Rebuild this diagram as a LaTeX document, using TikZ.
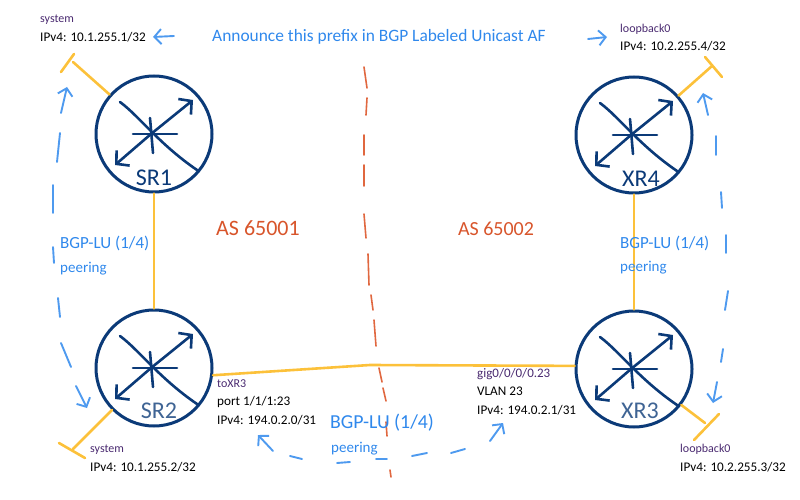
\documentclass[tikz,border=0pt]{standalone}
\usepackage{fontspec}
\setmainfont{Carlito}
\usetikzlibrary{arrows.meta}
\definecolor{navy}{HTML}{0B3A78}
\definecolor{navylight}{HTML}{3F6494}
\definecolor{linkyellow}{HTML}{FCC13A}
\definecolor{noteblue}{HTML}{2F88EC}
\definecolor{ifpurple}{HTML}{4A2A70}
\definecolor{asred}{HTML}{D8552B}
\definecolor{borderred}{HTML}{E0673F}
\tikzset{
  router/.style={circle, draw=navy, line width=3pt, minimum size=116pt, inner sep=0pt},
  rname/.style={text=navy, font=\fontsize{24}{24}\selectfont},
  link/.style={draw=linkyellow, line width=2.6pt, line cap=round},
  peer/.style={draw=noteblue!85!white, line width=1.9pt, line cap=round},
  peerhead/.style={peer, ->, >={Straight Barb[length=7pt,width=15pt]}},
  border/.style={draw=borderred, line width=1.6pt, line cap=round},
  addr/.style={anchor=west, inner sep=0pt, font=\fontsize{13.2}{13.2}\selectfont},
  ifname/.style={addr, text=ifpurple, font=\fontsize{12}{12}\selectfont},
  note/.style={anchor=west, inner sep=0pt, text=noteblue, font=\fontsize{17}{17}\selectfont},
  small note/.style={note, font=\fontsize{15}{15}\selectfont},
  asname/.style={inner sep=0pt, text=asred, font=\fontsize{20}{20}\selectfont},
  routermark/.pic={
    \draw[navy, line width=2.6pt, line cap=round, <->, >={Straight Barb[length=9pt,width=20pt]}]
      (-39,31) -- (-3,0) -- (39,-34);
    \draw[navy, line width=2.6pt, line cap=round] (-34,-32) .. controls (-15,-18) and (5,10) .. (43,36);
    \draw[navy, line width=2.6pt, line cap=round] (-21,0) -- (23,0);
    \draw[navy, line width=2.6pt, line cap=round] (-4,-16) -- (-1,19);
  }
}
\begin{document}
\begin{tikzpicture}[x=1pt,y=-1pt,node distance=234pt]
    \useasboundingbox (0,0) rectangle (800,500);
    % routers
    \node[router] (SR1) at (154,134) {};
    \node[router] (SR2) [below of=SR1] {};
    \node[router] (XR4) at (634,135) {};
    \node[router] (XR3) [below of=XR4] {};
    \foreach \r in {SR1,SR2,XR3,XR4}
        \pic at (\r) {routermark};
    \node[rname] (SR1name) at (154,178) {SR1};
    \node[rname, text=navylight] (SR2name) at (159,411) {SR2};
    \node[rname] (XR4name) at (641,179) {XR4};
    \node[rname, text=navylight] (XR3name) at (640,411) {XR3};
    % stubs
    \coordinate (SR1stub) at (73,62);
    \coordinate (SR1a) at (74,54);
    \coordinate (SR1b) at (61,72);
    \coordinate (XR4stub) at (712,66);
    \coordinate (XR4a) at (705,57);
    \coordinate (XR4b) at (722,77);
    \coordinate (SR2stub) at (73,449);
    \coordinate (SR2a) at (59,443);
    \coordinate (SR2b) at (85,458);
    \coordinate (XR3stub) at (705,423);
    \coordinate (XR3a) at (719,414);
    \coordinate (XR3b) at (694,440);
    \draw[link] (SR1) -- (SR1stub);
    \draw[link] (SR1a) -- (SR1b);
    \draw[link] (XR4) -- (XR4stub);
    \draw[link] (XR4a) -- (XR4b);
    \draw[link] (SR2) -- (SR2stub);
    \draw[link] (SR2a) -- (SR2b);
    \draw[link] (XR3) -- (XR3stub);
    \draw[link] (XR3a) -- (XR3b);
    % links
    \coordinate (mid) at (370,365);
    \draw[link] (SR1) -- (SR2);
    \draw[link] (XR4) -- (XR3);
    \draw[link] (SR2.-7) -- (mid) -- (XR3.177);
    % AS border
    \foreach \xa/\ya/\xb/\yb in {364/67/367/88, 367/98/366/115, 364/135/364/155, 364/165/364/186,
        364/214/366/238, 368/254/369/285, 371/295/373/310, 374/320/376/346,
        379/368/382/382, 383/388/386/401, 386/422/387/436, 390/470/391/477}
        \draw[border] (\xa,\ya) -- (\xb,\yb);
    % peering
    \foreach \xa/\ya/\xb/\yb in {60/133/57/162, 53/185/53/213, 53/247/54/263, 58/298/60/317, 61/343/71/367,
        716/136/716/155, 721/192/722/208, 726/235/726/253, 728/291/725/310, 723/349/721/362,
        290/456/302/459, 337/463/350/462, 376/459/387/459, 412/456/427/453, 451/453/465/449}
        \draw[peer] (\xa,\ya) -- (\xb,\yb);
    \coordinate (p1a) at (61,113);
    \coordinate (p1tip) at (67,87);
    \coordinate (p1b) at (76,386);
    \coordinate (p1end) at (87,408);
    \coordinate (p2a) at (708,115);
    \coordinate (p2tip) at (703,93);
    \coordinate (p2b) at (717,382);
    \coordinate (p2end) at (713,403);
    \coordinate (p3a) at (273,451);
    \coordinate (p3tip) at (258,435);
    \coordinate (p3b) at (490,441);
    \coordinate (p3end) at (503,423);
    \draw[peerhead] (p1a) -- (p1tip);
    \draw[peerhead] (p1b) -- (p1end);
    \draw[peerhead] (p2a) -- (p2tip);
    \draw[peerhead] (p2b) -- (p2end);
    \draw[peerhead] (p3a) -- (p3tip);
    \draw[peerhead] (p3b) -- (p3end);
    % announce
    \node[note, font=\fontsize{17.4}{17.4}\selectfont] (announce) at (212,37) {Announce this prefix in BGP Labeled Unicast AF};
    \coordinate (aleft) at (174,36);
    \coordinate (SR1tip) at (153,37);
    \coordinate (aright) at (588,39);
    \coordinate (XR4tip) at (607,37);
    \draw[peerhead] (aleft) -- (SR1tip);
    \draw[peerhead] (aright) -- (XR4tip);
    % addresses
    \node[ifname] (sys1) at (40,20) {system};
    \node[addr] (ip1) at (40,37) {IPv4: 10.1.255.1/32};
    \node[ifname] (lo4) at (620,29) {loopback0};
    \node[addr] (ip4) at (620,46) {IPv4: 10.2.255.4/32};
    \node[ifname] (sys2) at (90,450) {system};
    \node[addr] (ip2) at (90,467) {IPv4: 10.1.255.2/32};
    \node[ifname] (lo3) at (680,449) {loopback0};
    \node[addr] (ip3) at (680,467) {IPv4: 10.2.255.3/32};
    \node[ifname] (if2) at (217,384) {toXR3};
    \node[addr] (port2) at (217,402) {port 1/1/1:23};
    \node[addr] (ifip2) at (217,420) {IPv4: 194.0.2.0/31};
    \node[ifname, font=\fontsize{13}{13}\selectfont] (if3) at (477,374) {gig0/0/0/0.23};
    \node[addr] (vlan3) at (477,391) {VLAN 23};
    \node[addr] (ifip3) at (477,410) {IPv4: 194.0.2.1/31};
    % AS names
    \node[asname, font=\fontsize{22}{22}\selectfont] (as1) at (258,228) {AS 65001};
    \node[asname] (as2) at (496,229) {AS 65002};
    % peering labels
    \node[note] (bgp1) at (60,243) {BGP-LU (1/4)};
    \node[small note] (peer1) at (60,269) {peering};
    \node[note] (bgp2) at (620,243) {BGP-LU (1/4)};
    \node[small note] (peer2) at (620,268) {peering};
    \node[note, font=\fontsize{19.8}{19.8}\selectfont] (bgp3) at (330,423) {BGP-LU (1/4)};
    \node[small note] (peer3) at (331,449) {peering};
\end{tikzpicture}
\end{document}
